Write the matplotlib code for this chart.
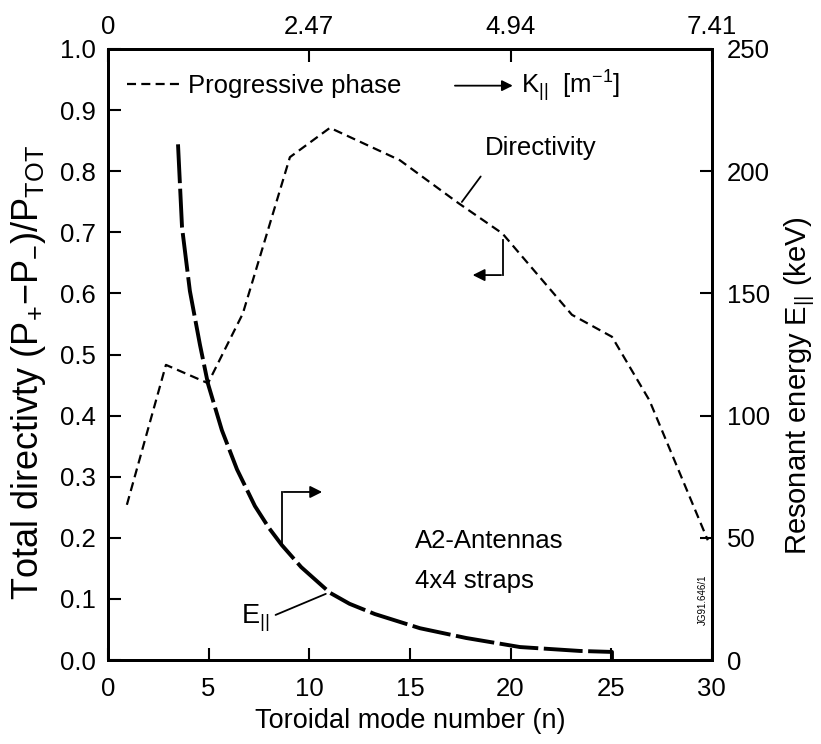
import numpy as np
import matplotlib
matplotlib.use('Agg')
import matplotlib.pyplot as plt
from matplotlib.lines import Line2D

plt.rcParams['font.family'] = ['Liberation Sans', 'DejaVu Sans']
plt.rcParams['mathtext.fontset'] = 'custom'
plt.rcParams['mathtext.rm'] = 'Liberation Sans'
plt.rcParams['mathtext.it'] = 'Liberation Sans:italic'
plt.rcParams['mathtext.default'] = 'regular'
plt.rcParams['lines.scale_dashes'] = False

#directivity, progressive phase
n_dir = [0.94, 2.88, 4.97, 6.7, 9.04, 11.03, 14.5, 17.4, 19.6, 23.05, 25.04, 26.9, 29.8]
directivity = [0.254, 0.483, 0.453, 0.567, 0.823, 0.871, 0.818, 0.748, 0.698, 0.565, 0.529, 0.425, 0.196]

#resonant energy (keV)
n_e = [3.48, 3.68, 4.07, 4.57, 4.97, 5.66, 6.41, 7.3, 8.0, 8.64, 9.6, 11.03,
       12.0, 13.26, 15.5, 17.8, 20.47, 23.45, 25.04, 25.04]
e_par = [211, 177, 151, 129, 113, 94, 78, 63, 54, 47, 38, 27.5,
         23, 18.8, 13, 9, 5.3, 3.7, 3.3, 0]

#axis ticks
x_ticks = [0, 5, 10, 15, 20, 25, 30]
y_ticks = [0.0, 0.1, 0.2, 0.3, 0.4, 0.5, 0.6, 0.7, 0.8, 0.9, 1.0]
e_ticks = [0, 50, 100, 150, 200, 250]
top_ticks = [0, 10, 20, 30]
top_labels = ['0', '2.47', '4.94', '7.41']

fs = 18.5
dir_dash = (6.5, 3.8)
fig = plt.figure(figsize=(8.21, 7.44), dpi=100)
ax = fig.add_subplot(111)
fig.subplots_adjust(left=0.1315, right=0.867, bottom=1 - 660 / 744, top=1 - 49 / 744)

ax.plot(n_dir, directivity, color='black', lw=1.6, dashes=dir_dash)
ax.set_xlim(0, 30)
ax.set_ylim(0, 1.0)
ax.set_xticks(x_ticks)
ax.set_yticks(y_ticks)
ax.set_yticklabels([f'{v:.1f}' for v in y_ticks])
ax.set_xlabel('Toroidal mode number (n)', fontsize=19.5, labelpad=5)
ax.set_ylabel('Total directivty (P$_{+}$$-$P$_{-}$)/P$_{TOT}$', fontsize=26)
ax.yaxis.set_label_coords(-0.1, 0.47)

#right axis for resonant energy
ax_e = ax.twinx()
ax_e.plot(n_e, e_par, color='black', lw=2.8, dashes=(28, 4))
ax_e.set_ylim(0, 250)
ax_e.set_yticks(e_ticks)
ax_e.set_ylabel('Resonant energy E$_{||}$ (keV)', fontsize=21)
ax_e.yaxis.set_label_coords(1.117, 0.45)

#top axis for k parallel
ax_top = ax.twiny()
ax_top.set_xlim(0, 30)
ax_top.set_xticks(top_ticks)
ax_top.set_xticklabels(top_labels)

for a in (ax, ax_e, ax_top):
    a.tick_params(direction='in', length=9, width=1.5, labelsize=fs)
    for s in a.spines.values():
        s.set_linewidth(2)
ax.tick_params(axis='x', pad=12)
ax.tick_params(axis='y', pad=9)
ax_e.tick_params(axis='y', pad=11)
ax_top.tick_params(axis='x', pad=7)

#legend-like key for the dashed line
key = Line2D([], [], color='black', lw=1.6, dashes=dir_dash)
ax_top.legend([key], ['Progressive phase'], loc='center left', bbox_to_anchor=(0.031, 0.94),
              frameon=False, fontsize=fs, handlelength=2.05, handletextpad=0.35,
              borderpad=0, borderaxespad=0)
ax.annotate('', xy=(20.25, 0.94), xytext=(17.1, 0.94),
            arrowprops=dict(arrowstyle='-|>', color='black', lw=1.3, mutation_scale=16))
ax.text(20.5, 0.94, 'K$_{||}$  [m$^{-1}$]', fontsize=fs, va='center')

ax.text(21.5, 0.838, 'Directivity', fontsize=fs, ha='center', va='center')
ax.annotate('', xy=(17.5, 0.746), xytext=(18.6, 0.795),
            arrowprops=dict(arrowstyle='-', color='black', lw=1.3))

#arrow pointing to left axis
ax.plot([19.62, 19.62], [0.688, 0.630], color='black', lw=1.3)
ax.annotate('', xy=(17.98, 0.630), xytext=(19.67, 0.630),
            arrowprops=dict(arrowstyle='-|>', color='black', lw=1.3, mutation_scale=18))

#arrow pointing to right axis
ax.plot([8.64, 8.64], [0.188, 0.275], color='black', lw=1.3)
ax.annotate('', xy=(10.78, 0.275), xytext=(8.59, 0.275),
            arrowprops=dict(arrowstyle='-|>', color='black', lw=1.3, mutation_scale=18))

ax.text(7.3, 0.068, 'E$_{||}$', fontsize=fs + 1, ha='center', va='center')
ax.annotate('', xy=(10.95, 0.11), xytext=(8.2, 0.072),
            arrowprops=dict(arrowstyle='-', color='black', lw=1.3))

ax.text(15.26, 0.195, 'A2-Antennas', fontsize=fs, va='center')
ax.text(15.26, 0.13, '4x4 straps', fontsize=fs, va='center')
ax.text(29.57, 0.098, 'JG91.646/1', fontsize=7, rotation=90, ha='center', va='center')

plt.savefig('out.png', dpi=100)
